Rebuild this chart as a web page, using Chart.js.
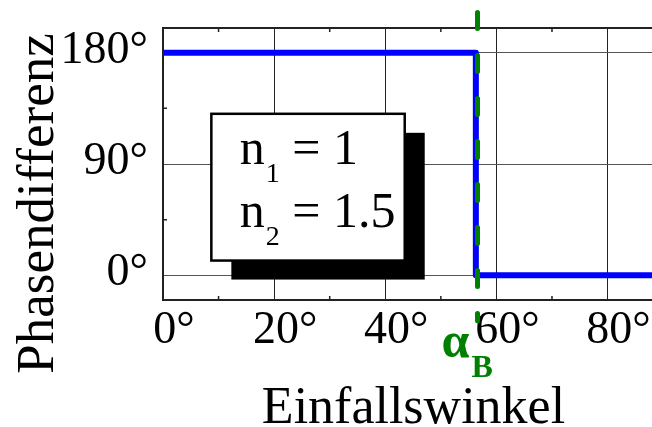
<!DOCTYPE html>
<html>
<head>
<meta charset="utf-8">
<script src="https://cdn.jsdelivr.net/npm/chart.js@4/dist/chart.umd.min.js"></script>
<style>
  body { margin: 0; background: #fff; }
  #wrap { width: 652px; height: 427px; }
</style>
</head>
<body>
<div id="wrap"><canvas id="phaseChart"></canvas></div>
<script>
// Phase jump at the Brewster angle
const angle = [0, 56.3, 56.3, 88];
const phase = [180, 180, 0, 0];

// Brewster angle marker (dashed, runs past the plot edges)
const brewsterAngle = [56.6, 56.6];
const brewsterPhase = [212.6, -36.7];

// Axis ticks
const xTickValues = [0, 20, 40, 60, 80];
const yTickValues = [0, 90, 180];
const xMinorTicks = [10, 30, 50, 70];
const yMinorTicks = [45, 135];

// Text in the box
const boxBase = ["n", "n"];
const boxSub = ["1", "2"];
const boxRest = [" = 1", " = 1.5"];

const FONT = "'Liberation Serif', 'Times New Roman', serif";
const GREEN = "#008000";

function toPoints(xs, ys) {
  return xs.map((x, i) => ({ x: x, y: ys[i] }));
}

const decorPlugin = {
  id: "decor",
  beforeDatasetsDraw(chart) {
    const ctx = chart.ctx;
    const area = chart.chartArea;
    const xs = chart.scales.x;
    const ys = chart.scales.y;
    ctx.save();
    ctx.strokeStyle = "#222";
    // top border
    ctx.lineWidth = 2;
    ctx.beginPath();
    ctx.moveTo(area.left, area.top);
    ctx.lineTo(area.right, area.top);
    ctx.stroke();
    // minor ticks
    ctx.lineWidth = 1.5;
    ctx.beginPath();
    xMinorTicks.forEach((v) => {
      const px = xs.getPixelForValue(v);
      ctx.moveTo(px, area.bottom);
      ctx.lineTo(px, area.bottom - 4);
      ctx.moveTo(px, area.top);
      ctx.lineTo(px, area.top + 4);
    });
    yMinorTicks.forEach((v) => {
      const py = ys.getPixelForValue(v);
      ctx.moveTo(area.left, py);
      ctx.lineTo(area.left + 4, py);
    });
    ctx.stroke();
    ctx.restore();
  },
  afterDatasetsDraw(chart) {
    const ctx = chart.ctx;
    const xs = chart.scales.x;
    const ys = chart.scales.y;
    ctx.save();

    // box with shadow
    const left = xs.getPixelForValue(8.7);
    const right = xs.getPixelForValue(43.5);
    const top = ys.getPixelForValue(130.6);
    const bottom = ys.getPixelForValue(11.9);
    const w = right - left;
    const h = bottom - top;
    ctx.fillStyle = "#000";
    ctx.fillRect(left + 20, top + 19, w, h);
    ctx.fillStyle = "#fff";
    ctx.fillRect(left, top, w, h);
    ctx.strokeStyle = "#000";
    ctx.lineWidth = 2.5;
    ctx.strokeRect(left, top, w, h);

    ctx.fillStyle = "#000";
    ctx.textAlign = "left";
    ctx.textBaseline = "alphabetic";
    boxBase.forEach((b, i) => {
      let x = left + 28.5;
      const y = top + 50 + i * 63.5;
      ctx.font = "50px " + FONT;
      ctx.fillText(b, x, y);
      x += ctx.measureText(b).width;
      ctx.font = "28px " + FONT;
      ctx.fillText(boxSub[i], x + 1, y + 18);
      x += ctx.measureText(boxSub[i]).width + 1;
      ctx.font = "50px " + FONT;
      ctx.fillText(boxRest[i], x, y);
    });

    // alpha_B label
    const bx = xs.getPixelForValue(brewsterAngle[0]);
    ctx.fillStyle = GREEN;
    ctx.font = "bold 50px " + FONT;
    ctx.fillText("α", bx - 36, 357);
    ctx.font = "bold 32px " + FONT;
    ctx.fillText("B", bx - 6, 377);

    // axis titles
    ctx.fillStyle = "#000";
    ctx.font = "52px " + FONT;
    ctx.textAlign = "center";
    ctx.fillText("Einfallswinkel", 413.5, 423);
    ctx.translate(53, 203.5);
    ctx.rotate(-Math.PI / 2);
    ctx.font = "53px " + FONT;
    ctx.fillText("Phasendifferenz", 0, 0);

    ctx.restore();
  },
};

new Chart(document.getElementById("phaseChart"), {
  type: "line",
  data: {
    datasets: [
      {
        data: toPoints(brewsterAngle, brewsterPhase),
        borderColor: GREEN,
        borderWidth: 5,
        borderDash: [16, 27],
        borderCapStyle: "round",
        pointRadius: 0,
        clip: false,
      },
      {
        data: toPoints(angle, phase),
        borderColor: "#0000ff",
        borderWidth: 6,
        borderJoinStyle: "round",
        pointRadius: 0,
        tension: 0,
      },
    ],
  },
  options: {
    responsive: true,
    maintainAspectRatio: false,
    animation: false,
    layout: {
      padding: { top: 28, left: 0, right: 0, bottom: 0 },
    },
    plugins: {
      legend: { display: false },
      tooltip: { enabled: false },
    },
    scales: {
      x: {
        type: "linear",
        min: 0,
        max: 88,
        afterBuildTicks: (axis) => {
          axis.ticks = xTickValues.map((v) => ({ value: v }));
        },
        afterFit: (axis) => {
          axis.height = 127;
          axis.paddingLeft = 0;
          axis.paddingRight = 0;
        },
        grid: { color: "#222", lineWidth: 1, drawTicks: false },
        border: { color: "#222", width: 2 },
        ticks: {
          color: "#000",
          font: { family: FONT, size: 46 },
          padding: 3,
          labelOffset: 11,
          maxRotation: 0,
          callback: (v) => v + "°",
        },
      },
      y: {
        type: "linear",
        min: -20,
        max: 200,
        afterBuildTicks: (axis) => {
          axis.ticks = yTickValues.map((v) => ({ value: v }));
        },
        afterFit: (axis) => {
          axis.width = 163;
          axis.paddingTop = 0;
          axis.paddingBottom = 0;
        },
        grid: { color: "#555", lineWidth: 1, drawTicks: false },
        border: { color: "#222", width: 2 },
        ticks: {
          color: "#000",
          font: { family: FONT, size: 46 },
          padding: 15,
          labelOffset: -2,
          callback: (v) => v + "°",
        },
      },
    },
  },
  plugins: [decorPlugin],
});
</script>
</body>
</html>
